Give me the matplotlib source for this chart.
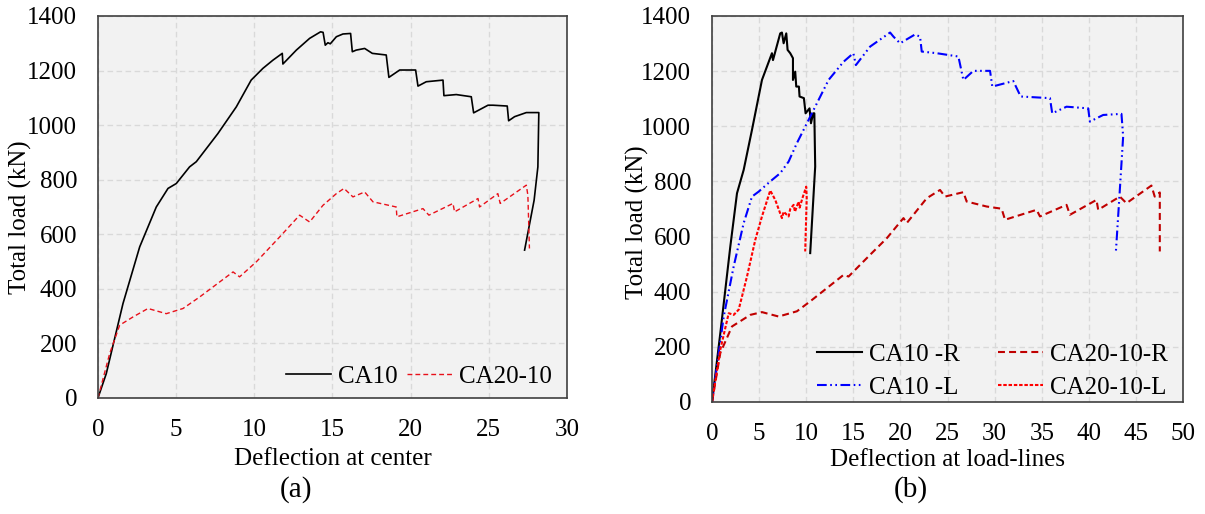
import numpy as np
import matplotlib
matplotlib.use('Agg')
from matplotlib import pyplot as plt

plt.rcParams['font.family'] = ['Liberation Serif', 'DejaVu Serif']
plt.rcParams['lines.scale_dashes'] = False

# (a) deflection at center
ca10_x = [0, 0.53, 1.6, 2.67, 3.2, 3.73, 4.48, 5.01, 5.86, 6.29, 7.67, 8.85, 9.8, 10.55,
          11.19, 11.79, 11.83, 12.69, 13.54, 14.24, 14.4, 14.54, 14.71, 14.86, 15.25, 15.67,
          16.16, 16.27, 16.52, 17.06, 17.55, 18.44, 18.61, 19.3, 20.32, 20.47, 21.0, 22.07,
          22.13, 22.92, 23.88, 24.03, 24.95, 25.27, 26.18, 26.27, 26.65, 27.4, 28.2, 28.14,
          27.9, 27.29]
ca10_y = [0, 89, 346, 554, 627, 700, 768, 786, 847, 866, 969, 1067, 1165, 1208,
          1238, 1263, 1224, 1275, 1318, 1342, 1340, 1293, 1302, 1298, 1324, 1334,
          1336, 1269, 1275, 1281, 1263, 1257, 1175, 1202, 1202, 1143, 1159, 1165,
          1108, 1112, 1104, 1045, 1073, 1073, 1070, 1016, 1031, 1046, 1046, 847,
          725, 542]
ca20_x = [0, 0.75, 1.39, 2.24, 3.2, 4.37, 5.44, 6.5, 7.36, 8.64, 9.06, 10.13, 11.62, 12.9,
          13.54, 14.39, 15.25, 15.74, 16.31, 17.06, 17.59, 19.08, 19.12, 20.79, 21.17, 22.71,
          22.81, 24.31, 24.41, 25.58, 25.73, 27.4, 27.5, 27.6]
ca20_y = [0, 163, 267, 297, 328, 309, 328, 370, 407, 462, 444, 499, 590, 670,
          645, 706, 749, 768, 737, 755, 719, 700, 664, 694, 670, 713,
          682, 731, 700, 749, 713, 780, 743, 548]

# (b) deflection at load-lines
ca10r_x = [0, 0.88, 1.94, 2.65, 3.36, 4.24, 5.3, 6.36, 6.47, 7.24, 7.42, 7.6, 7.88, 8.02,
           8.3, 8.59, 8.59, 8.83, 8.94, 9.22, 9.29, 9.75, 9.93, 10.35, 10.5, 10.74, 10.86,
           10.95, 10.42]
ca10r_y = [0, 250, 564, 757, 842, 987, 1168, 1265, 1240, 1337, 1340, 1301, 1337, 1277,
           1265, 1247, 1168, 1198, 1144, 1144, 1108, 1102, 1047, 1065, 1011, 1047, 1047,
           854, 540]
ca10l_x = [0, 1.24, 2.3, 3.36, 4.24, 4.95, 6.18, 7.24, 8.13, 9.01, 10.07, 10.95, 12.37, 13.96,
           15.0, 15.27, 16.78, 18.9, 19.26, 19.96, 21.55, 22.08, 22.26, 23.85, 26.15, 26.68,
           27.74, 29.51, 29.75, 31.98, 32.76, 35.87, 36.11, 37.63, 39.93, 40.11, 41.52, 43.46,
           43.64, 43.22, 42.86]
ca10l_y = [0, 310, 492, 649, 745, 763, 800, 830, 872, 939, 1011, 1071, 1168, 1234,
           1265, 1222, 1289, 1340, 1325, 1301, 1333, 1325, 1271, 1265, 1253, 1168,
           1201, 1201, 1144, 1164, 1108, 1102, 1047, 1071, 1065, 1017, 1041, 1045,
           963, 733, 540]
ca20r_x = [0, 0.88, 2.12, 4.06, 5.3, 7.07, 9.01, 10.42, 12.19, 13.96, 14.49, 16.78, 18.55,
           20.32, 20.67, 22.79, 24.2, 24.73, 26.68, 27.03, 29.15, 30.74, 31.1, 34.45, 34.81,
           37.63, 37.99, 40.81, 40.99, 43.29, 43.99, 46.64, 46.99, 47.53, 47.53]
ca20r_y = [0, 178, 274, 316, 326, 310, 329, 365, 413, 461, 455, 534, 594,
           667, 649, 739, 769, 745, 761, 727, 709, 701, 661, 697, 673,
           715, 679, 733, 697, 745, 721, 785, 745, 760, 546]
ca20l_x = [0, 0.88, 1.77, 2.3, 2.83, 3.71, 4.59, 5.3, 6.18, 6.71, 7.42, 7.6, 8.13, 8.3, 8.66,
           8.8, 9.19, 9.3, 9.6, 10.0, 10.05, 9.89]
ca20l_y = [0, 190, 322, 316, 335, 455, 588, 673, 767, 733, 667, 690, 673, 700, 715,
           690, 727, 705, 740, 781, 740, 546]

xticks_a = [0, 5, 10, 15, 20, 25, 30]
xticks_b = [0, 5, 10, 15, 20, 25, 30, 35, 40, 45, 50]
yticks = [0, 200, 400, 600, 800, 1000, 1200, 1400]

fig = plt.figure(figsize=(12.05, 5.14), dpi=100)
ax1 = fig.add_axes([0.0813, 0.2257, 0.3892, 0.7432])
ax2 = fig.add_axes([0.5909, 0.2179, 0.3909, 0.7510])

for ax, xt in [(ax1, xticks_a), (ax2, xticks_b)]:
    ax.set_facecolor('#f2f2f2')
    ax.set_xlim(xt[0], xt[-1])
    ax.set_ylim(0, 1400)
    ax.set_xticks(xt)
    ax.set_yticks(yticks)
    ax.grid(True, color='#d9d9d9', linestyle=(0, (4, 2.5)), linewidth=1)
    ax.set_axisbelow(True)
    ax.tick_params(length=0, labelsize=18, pad=15)
    for s in ax.spines.values():
        s.set_color('#404040')
        s.set_linewidth(1.2)
    ax.set_ylabel('Total load (kN)', fontsize=18, va='center')

ax1.plot(ca10_x, ca10_y, color='black', lw=1.2, label='CA10')
ax1.plot(ca20_x, ca20_y, color='#e8101a', lw=1.0, linestyle=(0, (3.5, 2.2)), label='CA20-10')
ax1.legend(loc='lower right', ncol=2, fontsize=18, frameon=False, handlelength=1.8,
           handletextpad=0.3, columnspacing=0.35, borderaxespad=0.2, bbox_to_anchor=(1.0, -0.012))
ax1.set_xlabel('Deflection at center', fontsize=18, va='center')
ax1.xaxis.set_label_coords(0.5, -0.16)
ax1.yaxis.set_label_coords(-0.166, 0.474)

ax2.plot(ca10r_x, ca10r_y, color='black', lw=1.5, label='CA10 -R')
ax2.plot(ca10l_x, ca10l_y, color='#0000ff', lw=1.5, linestyle=(0, (7, 2.5, 1.2, 2.5, 1.2, 2.5)),
         label='CA10 -L')
ax2.plot(ca20r_x, ca20r_y, color='#c00000', lw=1.5, linestyle=(0, (5, 3)), label='CA20-10-R')
ax2.plot(ca20l_x, ca20l_y, color='#ff0000', lw=1.5, linestyle=(0, (2.5, 1.3)), label='CA20-10-L')
ax2.legend(loc='lower right', ncol=2, fontsize=18, frameon=False, handlelength=1.8,
           handletextpad=0.3, columnspacing=1.5, borderaxespad=0.2, labelspacing=0.4,
           bbox_to_anchor=(1.0, -0.03))
ax2.set_xlabel('Deflection at load-lines', fontsize=18, va='center')
ax2.xaxis.set_label_coords(0.5, -0.15)
ax2.yaxis.set_label_coords(-0.159, 0.466)

fig.text(296 / 1205, 1 - 490 / 514, '(a)', fontsize=21, ha='center', va='center')
fig.text(911 / 1205, 1 - 490 / 514, '(b)', fontsize=21, ha='center', va='center')

fig.savefig('out.png', dpi=100)
